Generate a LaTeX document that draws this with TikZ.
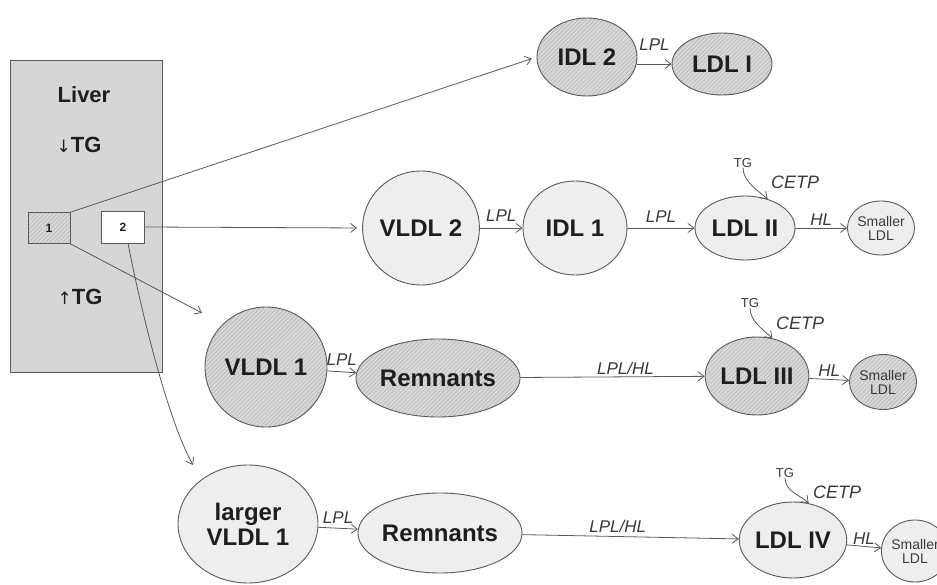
\documentclass[tikz,border=0pt]{standalone}
\usepackage{fontspec}
\setmainfont{Liberation Sans}
\newfontfamily\symfont{DejaVu Sans}
\usetikzlibrary{shapes.geometric,arrows.meta,patterns.meta}
\definecolor{linec}{HTML}{5A5A5A}
\definecolor{txt}{HTML}{1E1E1E}
\definecolor{labc}{HTML}{3A3A3A}
\definecolor{plainc}{HTML}{EEEEEE}
\definecolor{hatchc}{HTML}{D8D8D8}
\definecolor{hatchl}{HTML}{B0B0B0}
\definecolor{liverc}{HTML}{D6D6D6}
\tikzset{
  lp/.style={ellipse, draw=linec, line width=0.9pt, inner sep=0pt, align=center,
    text=txt, font=\bfseries\fontsize{24}{25}\selectfont},
  small/.style={lp, font=\fontsize{14}{14}\selectfont, text=labc},
  plainfill/.style={fill=plainc},
  hatchfill/.style={preaction={fill=hatchc},
    pattern={Lines[angle=45,distance=3pt,line width=0.45pt]}, pattern color=hatchl},
  arr/.style={draw=linec, line width=0.8pt, -{Straight Barb[length=6pt,width=9pt]}},
  lab/.style={font=\itshape\fontsize{17}{17}\selectfont, text=labc, inner sep=1pt},
  cetp/.style={font=\itshape\fontsize{18}{18}\selectfont, text=labc, inner sep=0pt},
  tgl/.style={font=\fontsize{13}{13}\selectfont, text=labc, inner sep=0pt},
  livtxt/.style={font=\bfseries\fontsize{22}{24}\selectfont, text=txt},
  sbox/.style={draw=linec, line width=0.8pt, font=\bfseries\fontsize{12}{12}\selectfont, text=txt}
}
\begin{document}
\begin{tikzpicture}[x=1pt,y=-1pt]
\useasboundingbox (0,0) rectangle (937,585);
\fill[white] (0,0) rectangle (937,585);
\begin{scope}
\clip (0,0) rectangle (937,585);

% Liver compartment
\node[draw=linec, fill=liverc, line width=0.9pt, minimum width=152pt, minimum height=312pt] (liver) at (86,216) {};
\node[livtxt] (livername) at (84,95) {Liver};
\node[livtxt] (tgdown) at (79,145) {{\symfont\mdseries\fontsize{17}{17}\selectfont ↓}TG};
\node[livtxt] (tgup) at (80,297) {{\symfont\mdseries\fontsize{17}{17}\selectfont ↑}TG};
\node[sbox, hatchfill, minimum width=42pt, minimum height=31pt] (b1) at (49,228) {1};
\node[sbox, fill=white, minimum width=43pt, minimum height=32pt] (b2) at (123,227) {2};

% Row 1
\node[lp, hatchfill, minimum width=100pt, minimum height=78pt] (IDL2) at (587,57) {IDL 2};
\node[lp, hatchfill, minimum width=100pt, minimum height=62pt] (LDLI) at (722,64) {LDL I};

% Row 2
\node[lp, plainfill, minimum width=116pt, minimum height=114pt] (VLDL2) at (421,228) {VLDL 2};
\node[lp, plainfill, minimum width=104pt, minimum height=94pt] (IDL1) at (575,228) {IDL 1};
\node[lp, plainfill, minimum width=100pt, minimum height=64pt] (LDLII) at (745,228) {LDL II};
\node[small, plainfill, minimum width=50pt, minimum height=54pt] (SL2) at (881,228) {Smaller\\LDL};
\node[tgl] (TG2) at (743,163) {TG};
\node[cetp] (CETP2) at (795,182) {CETP};

% Row 3
\node[lp, hatchfill, minimum width=122pt, minimum height=120pt] (VLDL1) at (266,367) {VLDL 1};
\node[lp, hatchfill, minimum width=134pt, minimum height=78pt] (Rem3) at (438,378) {Remnants};
\node[lp, hatchfill, minimum width=88pt, minimum height=78pt] (LDLIII) at (757,376) {LDL III};
\node[small, hatchfill, minimum width=54pt, minimum height=55pt] (SL3) at (883,382) {Smaller\\LDL};
\node[tgl] (TG3) at (750,303) {TG};
\node[cetp] (CETP3) at (800,323) {CETP};

% Row 4
\node[lp, plainfill, minimum width=140pt, minimum height=118pt] (LVLDL1) at (248,524) {larger\\VLDL 1};
\node[lp, plainfill, minimum width=134pt, minimum height=80pt] (Rem4) at (440,533) {Remnants};
\node[lp, plainfill, minimum width=90pt, minimum height=76pt] (LDLIV) at (793,540) {LDL IV};
\node[small, plainfill, minimum width=64pt, minimum height=62pt] (SL4) at (915,551) {Smaller\\LDL};
\node[tgl] (TG4) at (785,473) {TG};
\node[cetp] (CETP4) at (837,492) {CETP};

% free arrow ends
\coordinate (v1tip) at (202,313);
\coordinate (lv1tip) at (193,465);

% connectors from liver
\draw[arr, shorten >=5pt] (b1.north east) -- (IDL2.west);
\draw[arr, shorten >=5pt] (b2.east) -- (VLDL2.west);
\draw[arr] (b1.south east) -- (v1tip);
\draw[arr] ([xshift=5pt]b2.south) .. controls (142,315) and (168,420) .. (lv1tip);

% row 1
\draw[arr] (IDL2.east |- LDLI.west) -- (LDLI.west) node[lab, midway, above=12pt] {LPL};
% row 2
\draw[arr] (VLDL2) -- (IDL1) node[lab, midway, above=5pt] {LPL};
\draw[arr] (IDL1) -- (LDLII) node[lab, midway, above=4pt] {LPL};
\draw[arr] (LDLII) -- (SL2) node[lab, midway, above=1pt] {HL};
\draw[arr] (TG2.south) .. controls +(0,14) and +(-9,-8) .. (LDLII.52);
% row 3
\draw[arr] (VLDL1) -- (Rem3) node[lab, midway, above=5pt] {LPL};
\draw[arr] (Rem3) -- (LDLIII) node[lab, pos=0.57, above=1pt] {LPL/HL};
\draw[arr] (LDLIII) -- (SL3) node[lab, midway, above=2pt] {HL};
\draw[arr] (TG3.south) .. controls +(0,14) and +(-8,-8) .. (LDLIII.68);
% row 4
\draw[arr] (LVLDL1) -- (Rem4) node[lab, midway, above=3pt] {LPL};
\draw[arr] (Rem4) -- (LDLIV) node[lab, pos=0.44, above=2pt] {LPL/HL};
\draw[arr] (LDLIV) -- (SL4) node[lab, midway, above=1pt] {HL};
\draw[arr] (TG4.south) .. controls +(0,14) and +(-8,-8) .. (LDLIV.67);
\end{scope}
\end{tikzpicture}
\end{document}
